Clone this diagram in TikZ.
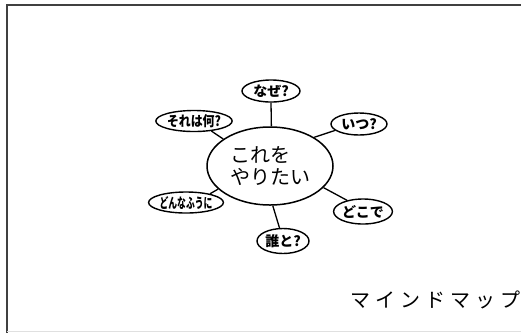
\documentclass[tikz,border=0pt]{standalone}
\usepackage{fontspec}
\setmainfont{Noto Sans CJK JP}
\usetikzlibrary{shapes.geometric}
\begin{document}
\begin{tikzpicture}[x=1pt,y=-1pt,
  bubble/.style={ellipse,draw,line width=1.4pt,inner sep=0pt,font=\fontsize{14}{16}\selectfont\bfseries},
  spoke/.style={line width=1.3pt},
  frameline/.style={line width=2pt,color=black!75}]
\useasboundingbox (0,0) rectangle (521,333);
% frame
\draw[frameline] (7,5) -- (521,5);
\draw[frameline] (7,4) -- (7,333);
\draw[line width=0.8pt,color=black!12] (7,331) -- (521,331);
% central idea
\node[ellipse,draw,line width=1.5pt,minimum width=126pt,minimum height=78pt,inner sep=0pt,
      align=left,font=\fontsize{20}{22.5}\selectfont] (main) at (270,166) {これを\\やりたい};
% questions around it
\node[bubble,minimum width=58pt,minimum height=22pt] (naze) at (271,91) {なぜ?};
\node[bubble,minimum width=62pt,minimum height=21pt] (nani) at (194,121) {\scalebox{0.85}[1]{それは何?}};
\node[bubble,minimum width=56pt,minimum height=22pt] (itsu) at (359,124) {いつ?};
\node[bubble,minimum width=61pt,minimum height=21pt] (douyatte) at (186,202.5) {\scalebox{0.63}[1]{どんなふうに}};
\node[bubble,minimum width=50pt,minimum height=25pt] (doko) at (363,211.5) {どこで};
\node[bubble,minimum width=52pt,minimum height=25pt] (dare) at (283,241) {誰と?};
% spokes
\draw[spoke] (naze.south) -- (main.88);
\draw[spoke] (nani.-30) -- (main.150);
\draw[spoke] (itsu.195) -- (main.33);
\draw[spoke] (douyatte.20) -- (main.204);
\draw[spoke] (doko.145) -- (main.-22);
\draw[spoke] (dare.105) -- (main.-86);
% caption
\node[anchor=east,inner sep=0pt,font=\fontsize{20}{20}\selectfont] (caption) at (521,300)
  {マ\hspace{5pt}イ\hspace{5pt}ン\hspace{5pt}ド\hspace{5pt}マ\hspace{5pt}ッ\hspace{5pt}プ};
\end{tikzpicture}
\end{document}
